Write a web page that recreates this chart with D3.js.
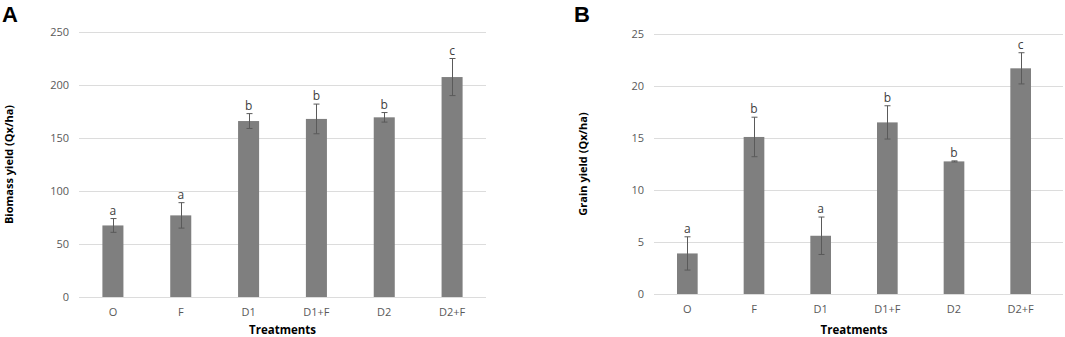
<!DOCTYPE html>
<html>
<head>
<meta charset="utf-8">
<script src="https://cdn.jsdelivr.net/npm/d3@7"></script>
<style>
  html, body { margin: 0; padding: 0; background: #fff; }
  svg { display: block; }
  text { font-family: "Open Sans", "Noto Sans", sans-serif; }
</style>
</head>
<body>
<svg id="chart" width="1065" height="337"></svg>
<script>
// ---- data ----
const treatments = ["O", "F", "D1", "D1+F", "D2", "D2+F"];

const biomassMean = [67.5, 77, 166, 168, 169.5, 207.5];
const biomassErr  = [6.5, 12, 7, 14, 4.5, 17.5];
const biomassLetters = ["a", "a", "b", "b", "b", "c"];
const biomassTicks = [0, 50, 100, 150, 200, 250];

const grainMean = [3.9, 15.1, 5.6, 16.5, 12.75, 21.7];
const grainErr  = [1.6, 1.9, 1.8, 1.6, 0.05, 1.5];
const grainLetters = ["a", "b", "a", "b", "b", "c"];
const grainTicks = [0, 5, 10, 15, 20, 25];

// ---- drawing ----
const svg = d3.select("#chart");

function panel(cfg) {
  const g = svg.append("g");
  const x = d3.scaleBand().domain(treatments).range([cfg.x0, cfg.x1]).paddingInner(0.69).paddingOuter(0.345);
  const y = d3.scaleLinear().domain([0, d3.max(cfg.ticks)]).range([cfg.yBottom, cfg.yTop]);

  // gridlines
  g.append("g").selectAll("line").data(cfg.ticks).join("line")
    .attr("x1", cfg.x0).attr("x2", cfg.gridEnd)
    .attr("y1", d => Math.round(y(d)) + 0.5).attr("y2", d => Math.round(y(d)) + 0.5)
    .attr("stroke", "#dcdcdc").attr("stroke-width", 1);

  // y tick labels via axis
  const yAxis = g.append("g").attr("transform", `translate(${cfg.x0 - 10},0)`)
    .call(d3.axisLeft(y).tickValues(cfg.ticks).tickSize(0).tickPadding(0));
  yAxis.select(".domain").remove();
  yAxis.selectAll("text").attr("fill", "#595959").style("font-size", "11px");

  // x tick labels via axis
  const xAxis = g.append("g").attr("transform", `translate(0,${cfg.yBottom + 11})`)
    .call(d3.axisBottom(x).tickSize(0).tickPadding(0));
  xAxis.select(".domain").remove();
  xAxis.selectAll("text").attr("fill", "#595959").style("font-size", "11px");

  const data = treatments.map((t, i) => ({ t, m: cfg.mean[i], e: cfg.err[i], l: cfg.letters[i] }));

  // bars
  g.append("g").selectAll("rect").data(data).join("rect")
    .attr("x", d => x(d.t)).attr("width", x.bandwidth())
    .attr("y", d => y(d.m)).attr("height", d => y(0) - y(d.m))
    .attr("fill", "#7f7f7f");

  // error bars
  const eb = g.append("g").attr("stroke", "#5a5a5a").attr("stroke-width", 1);
  data.forEach(d => {
    const cx = Math.round(x(d.t) + x.bandwidth() / 2) + 0.5;
    const yt = y(d.m + d.e), yb = y(d.m - d.e);
    eb.append("line").attr("x1", cx).attr("x2", cx).attr("y1", yt).attr("y2", yb);
    eb.append("line").attr("x1", cx - 3).attr("x2", cx + 3).attr("y1", yt).attr("y2", yt);
    eb.append("line").attr("x1", cx - 3).attr("x2", cx + 3).attr("y1", yb).attr("y2", yb);
  });

  // significance letters
  g.append("g").selectAll("text").data(data).join("text")
    .attr("x", d => x(d.t) + x.bandwidth() / 2)
    .attr("y", d => y(d.m + d.e) - 4)
    .attr("text-anchor", "middle")
    .attr("fill", "#404040").style("font-size", "12px")
    .text(d => d.l);

  // axis titles
  g.append("text")
    .attr("transform", `translate(${cfg.yTitleX},${(cfg.yTop + cfg.yBottom) / 2}) rotate(-90)`)
    .attr("text-anchor", "middle").attr("dy", "0.35em")
    .attr("fill", "#000").style("font-size", "11px").style("font-weight", "bold")
    .text(cfg.yTitle);

  g.append("text")
    .attr("x", (cfg.x0 + cfg.x1) / 2).attr("y", 333.5)
    .attr("text-anchor", "middle")
    .attr("fill", "#000").style("font-size", "11.5px").style("font-weight", "bold")
    .text("Treatments");

  // panel letter
  g.append("text")
    .attr("x", cfg.letterX).attr("y", 22)
    .attr("fill", "#000").style("font-family", "'Liberation Sans', Arial, sans-serif")
    .style("font-size", "22px").style("font-weight", "bold")
    .text(cfg.panel);
}

panel({
  panel: "A", letterX: 2,
  x0: 79, x1: 486, gridEnd: 486, yTop: 32, yBottom: 297,
  mean: biomassMean, err: biomassErr, letters: biomassLetters, ticks: biomassTicks,
  yTitle: "Biomass yield (Qx/ha)", yTitleX: 9
});

panel({
  panel: "B", letterX: 574,
  x0: 654, x1: 1054, gridEnd: 1063, yTop: 34, yBottom: 294,
  mean: grainMean, err: grainErr, letters: grainLetters, ticks: grainTicks,
  yTitle: "Grain yield (Qx/ha)", yTitleX: 583
});
</script>
</body>
</html>
